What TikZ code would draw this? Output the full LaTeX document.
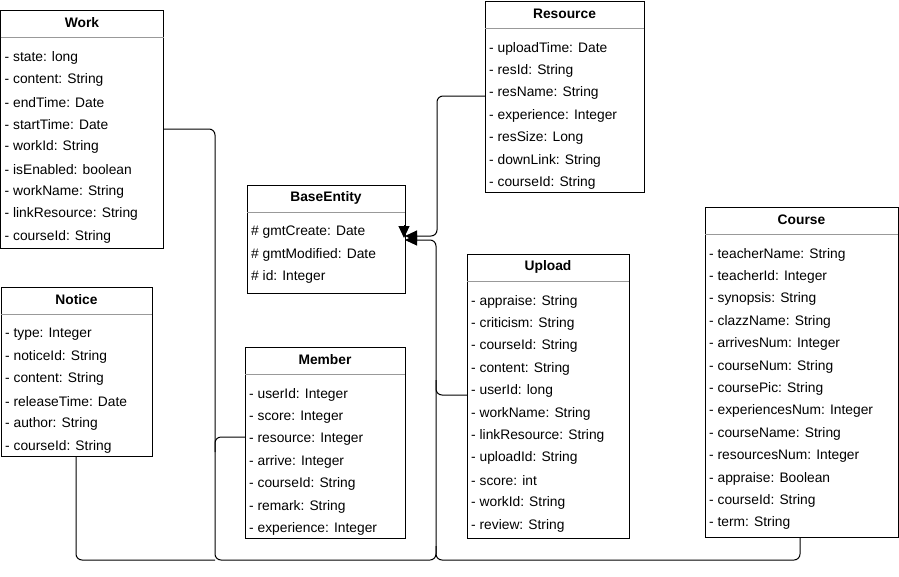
\documentclass[tikz,border=0pt]{standalone}
\usepackage{fontspec}
\setmainfont{Liberation Sans}
\usetikzlibrary{calc,arrows.meta}
\tikzset{
  classbox/.style={draw=black, line width=1pt, fill=white, inner sep=0pt, outer sep=0pt, anchor=north west},
  titletext/.style={font=\fontsize{13.8}{16}\selectfont\bfseries, inner sep=0pt},
  rowtext/.style={font=\fontsize{13.8}{16}\selectfont, inner sep=0pt, anchor=west},
  sepline/.style={draw=black!40, line width=0.8pt},
  link/.style={draw=black, line width=1pt, rounded corners=6pt},
  inherit/.style={link, -{Triangle[length=12pt,width=11pt]}},
}
% name, x, y, width, height, title, rows
\newcommand\umlclass[7]{%
  \node[classbox, minimum width=#4pt, minimum height=#5pt] (#1) at (#2,#3) {};
  \node[titletext] (#1-title) at ($(#1.north)+(0,12.5)$) {#6};
  \draw[sepline] ($(#1.north west)+(0,27)$) -- ($(#1.north east)+(0,27)$);
  \foreach \r [count=\i] in {#7} {
    \node[rowtext] (#1-\i) at ($(#1.north west)+(4,{47.5+22.4*(\i-1)})$) {\r};
  }%
}
\begin{document}
\begin{tikzpicture}[x=1pt,y=-1pt]
\useasboundingbox (0,0) rectangle (899,576);

\umlclass{work}{0.5}{10}{163}{238}{Work}{- state: long,- content: String,- endTime: Date,- startTime: Date,- workId: String,- isEnabled: boolean,- workName: String,- linkResource: String,- courseId: String}
\umlclass{resource}{485}{1}{159}{191}{Resource}{- uploadTime: Date,- resId: String,- resName: String,- experience: Integer,- resSize: Long,- downLink: String,- courseId: String}
\umlclass{base}{247}{185}{158}{108}{BaseEntity}{\# gmtCreate: Date,\# gmtModified: Date,\# id: Integer}
\umlclass{upload}{467}{254}{162}{284}{Upload}{- appraise: String,- criticism: String,- courseId: String,- content: String,- userId: long,- workName: String,- linkResource: String,- uploadId: String,- score: int,- workId: String,- review: String}
\umlclass{course}{705}{207}{193}{330}{Course}{- teacherName: String,- teacherId: Integer,- synopsis: String,- clazzName: String,- arrivesNum: Integer,- courseNum: String,- coursePic: String,- experiencesNum: Integer,- courseName: String,- resourcesNum: Integer,- appraise: Boolean,- courseId: String,- term: String}
\umlclass{notice}{1}{287}{151}{169}{Notice}{- type: Integer,- noticeId: String,- content: String,- releaseTime: Date,- author: String,- courseId: String}
\umlclass{member}{245}{347}{160}{191}{Member}{- userId: Integer,- score: Integer,- resource: Integer,- arrive: Integer,- courseId: String,- remark: String,- experience: Integer}

\coordinate (yA) at (0,236);
\coordinate (yB) at (0,240);
% junction points on the shared trunks
\coordinate (jNotice) at (215,560);
\coordinate (jMember) at (215,452);
\coordinate (jUpload) at (436,380);
\coordinate (jCourse) at (436,546);

% main trunk: Work -> BaseEntity
\draw[inherit] ($(work.north east)+(0,119)$) -- (215,129) -- (215,560) -- (436,560) -- (436,240) -- (base.east |- yB);
% branches joining the trunk
\draw[link] ($(notice.south west)+(75,0)$) -- (76,560) -- (jNotice);
\draw[link] ($(member.north west)+(0,90)$) -- (215,437) -- (jMember);
\draw[link] ($(upload.north west)+(0,141)$) -- (436,395) -- (jUpload);
\draw[link] ($(course.south west)+(95,0)$) -- (800,560) -- (436,560) -- (jCourse);
% Resource -> BaseEntity
\draw[inherit] ($(resource.north west)+(0,95)$) -- (437,96) -- (437,236) -- (base.east |- yA);
% downward arrowhead on BaseEntity's right edge
\draw[line width=1pt, -{Triangle[length=12pt,width=11pt]}] ($(base.north east)+(-1,40)$) -- ($(base.north east)+(-1,53)$);
\end{tikzpicture}
\end{document}
